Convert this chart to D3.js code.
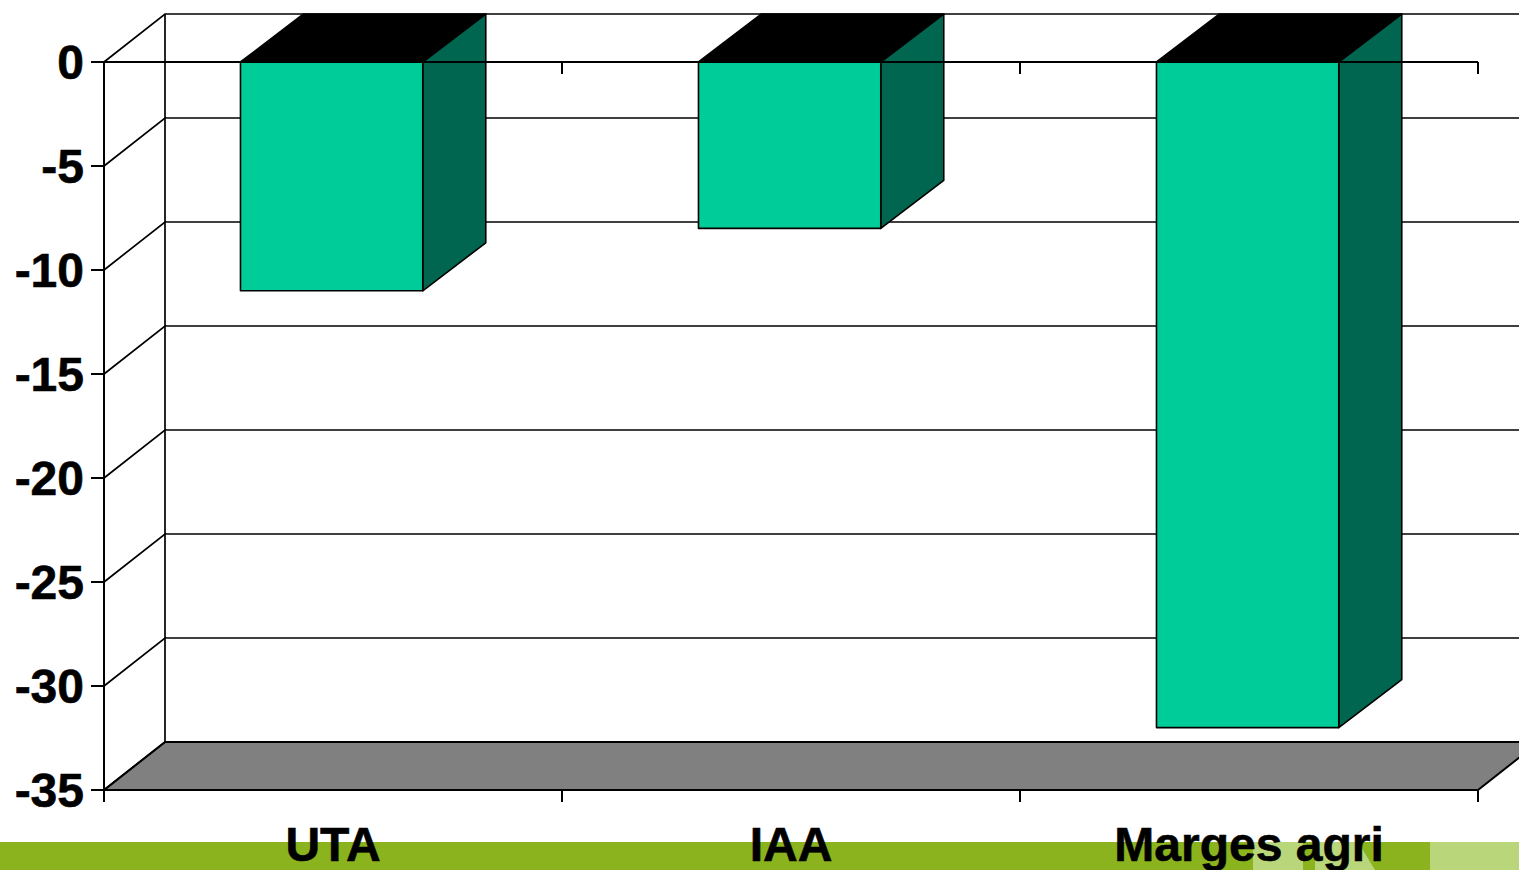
<!DOCTYPE html>
<html lang="fr">
<head>
  <meta charset="UTF-8">
  <title>UTA, IAA, Marges agri</title>
  <script src="https://cdn.jsdelivr.net/npm/d3@7"></script>
  <style>
    html, body { margin: 0; padding: 0; background: #fff; overflow: hidden; }
    text { font-family: "Liberation Sans", Arial, sans-serif; font-weight: bold; fill: #000; stroke: #000; stroke-width: 0.6; }
  </style>
</head>
<body>
<svg id="chart" width="1519" height="870"></svg>
<script>
  var categories = ["UTA", "IAA", "Marges agri"];
  var values = [-11, -8, -32];
  var yTicks = [0, -5, -10, -15, -20, -25, -30, -35];

  var width = 1519, height = 870;
  var left = 104, right = 1478, top0 = 62, bottom = 790;
  var depthX = 61, depthY = 48; // 3d offset of the back wall
  var barDepthX = 63;

  var svg = d3.select("#chart");
  var y = d3.scaleLinear().domain([-35, 0]).range([bottom, top0]);
  var x = d3.scaleBand().domain(categories).range([left, right]).paddingInner(0.602).paddingOuter(0.301).align(0.495);
  var step = x.step();
  var line = d3.line();

  // slide footer band behind the labels
  var footer = svg.append("g");
  footer.append("rect").attr("x", 0).attr("y", 842).attr("width", width).attr("height", 28).attr("fill", "#8AB31E");
  footer.append("rect").attr("x", 1253).attr("y", 842).attr("width", 50).attr("height", 28).attr("fill", "#B9D67A");
  footer.append("path").attr("d", "M1315,842H1358L1375,870H1315Z").attr("fill", "#B9D67A");
  footer.append("rect").attr("x", 1430).attr("y", 842).attr("width", 89).attr("height", 28).attr("fill", "#B9D67A");

  // floor
  svg.append("path")
    .attr("d", line([[left, bottom], [left + depthX, bottom - depthY], [right + depthX, bottom - depthY], [right, bottom]]) + "Z")
    .attr("fill", "#808080").attr("stroke", "#000").attr("stroke-width", 2);

  // walls: grid on the back, diagonals on the side
  var grid = svg.append("g").attr("fill", "none").attr("stroke", "#000").attr("stroke-width", 1.7);
  yTicks.forEach(function(t) {
    grid.append("path").attr("d", line([[left, y(t)], [left + depthX, y(t) - depthY], [right + depthX, y(t) - depthY]]));
  });
  grid.append("path").attr("d", line([[left + depthX, top0 - depthY], [left + depthX, bottom - depthY]]));

  // bars
  var bars = svg.append("g").attr("stroke", "#000").attr("stroke-width", 1.6).attr("stroke-linejoin", "round");
  categories.forEach(function(c, i) {
    var x0 = x(c), x1 = x0 + x.bandwidth(), y0 = y(0), y1 = y(values[i]);
    bars.append("path").attr("fill", "#000")
      .attr("d", line([[x0, y0], [x0 + barDepthX, y0 - depthY], [x1 + barDepthX, y0 - depthY], [x1, y0]]) + "Z");
    bars.append("path").attr("fill", "#006650")
      .attr("d", line([[x1, y0], [x1 + barDepthX, y0 - depthY], [x1 + barDepthX, y1 - depthY], [x1, y1]]) + "Z");
    bars.append("rect").attr("fill", "#00CC99")
      .attr("x", x0).attr("y", y0).attr("width", x.bandwidth()).attr("height", y1 - y0);
  });

  // axes
  var axes = svg.append("g").attr("fill", "none").attr("stroke", "#000").attr("stroke-width", 2);
  axes.append("path").attr("d", line([[left, top0], [left, bottom + 12]]));
  axes.append("path").attr("d", line([[left, top0], [right, top0]]));
  yTicks.forEach(function(t) {
    axes.append("path").attr("d", line([[left - 13, y(t)], [left, y(t)]]));
  });
  d3.range(categories.length + 1).forEach(function(i) {
    var tx = left + i * step;
    axes.append("path").attr("d", line([[tx, top0], [tx, top0 + 12]]));
    axes.append("path").attr("d", line([[tx, bottom], [tx, bottom + 12]]));
  });

  // labels
  svg.append("g").selectAll("text").data(yTicks).join("text")
    .attr("x", 84).attr("y", function(d) { return y(d) + 17; })
    .attr("text-anchor", "end").attr("font-size", 48)
    .text(function(d) { return d; });

  svg.append("g").selectAll("text").data(categories).join("text")
    .attr("x", function(d, i) { return left + (i + 0.5) * step; }).attr("y", 861)
    .attr("text-anchor", "middle").attr("font-size", 48)
    .text(function(d) { return d; });
</script>
</body>
</html>
